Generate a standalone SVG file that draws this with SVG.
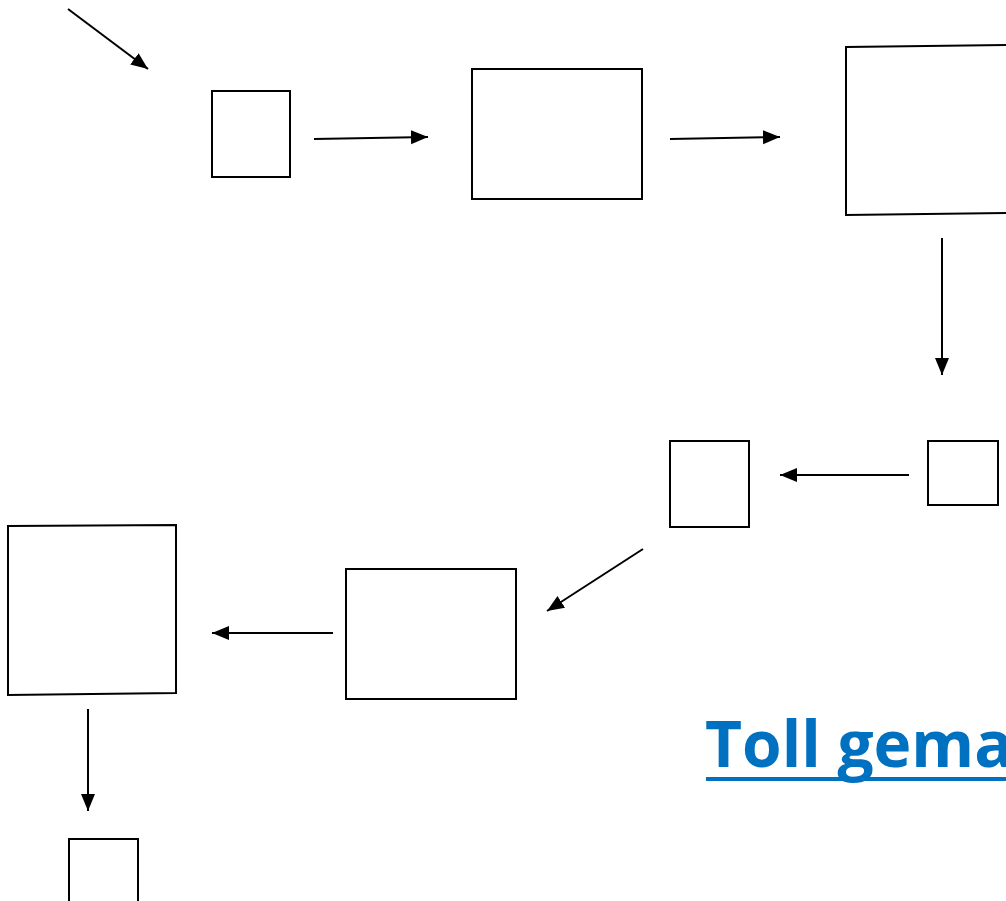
<svg xmlns="http://www.w3.org/2000/svg" width="1006" height="901" viewBox="0 0 1006 901">
<defs>
<style>
.box{fill:none;stroke:#000;stroke-width:2}
.conn{fill:none;stroke:#000;stroke-width:2;marker-end:url(#ah)}
.title{font-family:"Open Sans","Liberation Sans",sans-serif;font-weight:bold;font-size:64px;fill:#0070C0}
</style>
<marker id="ah" markerUnits="userSpaceOnUse" markerWidth="18" markerHeight="16" viewBox="0 0 18 16" refX="17" refY="8" orient="auto">
<path d="M0,1 L17,8 L0,15 Z" fill="#000"/>
</marker>
</defs>
<rect width="1006" height="901" fill="#fff"/>
<g id="n1"><rect class="box" x="212" y="91" width="78" height="86"/></g>
<g id="n2"><rect class="box" x="472" y="69" width="170" height="130"/></g>
<g id="n3"><polygon class="box" points="846,47 1010,45 1010,213 846,215"/></g>
<g id="n4"><rect class="box" x="928" y="441" width="70" height="64"/></g>
<g id="n5"><rect class="box" x="670" y="441" width="79" height="86"/></g>
<g id="n6"><rect class="box" x="346" y="569" width="170" height="130"/></g>
<g id="n7"><polygon class="box" points="8,526 176,525 176,693 8,695"/></g>
<g id="n8"><rect class="box" x="69" y="839" width="69" height="70"/></g>
<g id="connectors">
<line class="conn" x1="68" y1="9" x2="148" y2="69"/>
<line class="conn" x1="314" y1="139" x2="428" y2="137"/>
<line class="conn" x1="670" y1="139" x2="780" y2="137"/>
<line class="conn" x1="942" y1="238" x2="942" y2="375"/>
<line class="conn" x1="909" y1="475" x2="780" y2="475"/>
<line class="conn" x1="643" y1="549" x2="547" y2="611"/>
<line class="conn" x1="333" y1="633" x2="212" y2="633"/>
<line class="conn" x1="88" y1="709" x2="88" y2="811"/>
</g>
<g id="label">
<text class="title" x="705" y="767">Toll gema</text>
<rect x="706" y="777" width="310" height="4" fill="#0070C0"/>
</g>
</svg>
